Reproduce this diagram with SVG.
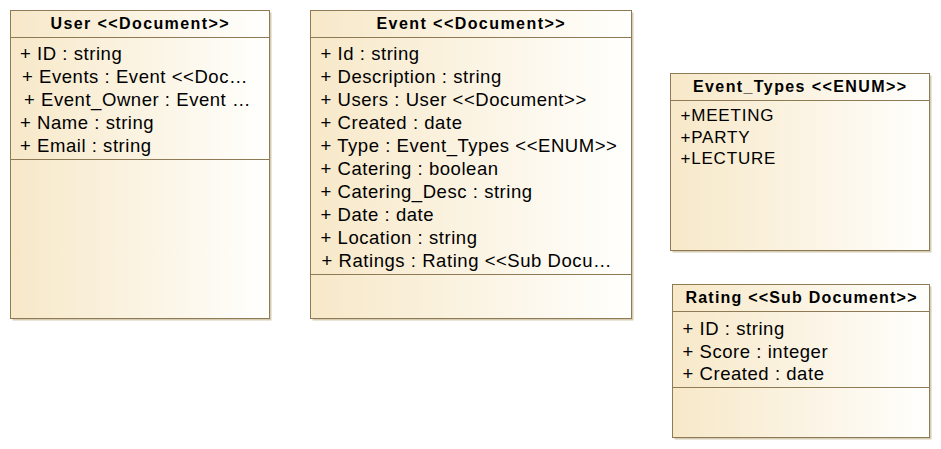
<svg xmlns="http://www.w3.org/2000/svg" width="941" height="449" viewBox="0 0 941 449">
<defs>
<linearGradient id="fill" x1="0" y1="0" x2="1" y2="0">
<stop offset="0" stop-color="#F7E8C8"/>
<stop offset="1" stop-color="#FFFFFD"/>
</linearGradient>
</defs>
<style>
.shadow{fill:#D6CCB4;}
.box{fill:url(#fill);stroke:#8E7A55;stroke-width:1;}
.sep{stroke:#8E7A55;stroke-width:1;}
.hdr{font-family:"Liberation Sans",Arial,sans-serif;font-weight:bold;font-size:16px;fill:#000;text-anchor:middle;}
.attr{font-family:"Liberation Sans",Arial,sans-serif;font-size:18.5px;letter-spacing:0.55px;fill:#000;}
.lit{font-family:"Liberation Sans",Arial,sans-serif;font-size:17px;letter-spacing:0.8px;fill:#000;}
</style>
<rect width="941" height="449" fill="#FFFFFF"/>
<g id="connectors"></g>
<g id="user">
<rect class="shadow" x="12.5" y="12.5" width="259" height="308"/>
<rect class="box" x="10.5" y="10.5" width="259" height="308"/>
<line class="sep" x1="10.5" y1="37.5" x2="269.5" y2="37.5"/>
<line class="sep" x1="10.5" y1="159.5" x2="269.5" y2="159.5"/>
<text class="hdr" x="139.5" y="29" textLength="178" lengthAdjust="spacing">User &lt;&lt;Document&gt;&gt;</text>
<text class="attr" x="20" y="60">+ ID : string</text>
<text class="attr" x="22" y="83">+ Events : Event &lt;&lt;Doc…</text>
<text class="attr" x="24" y="106">+ Event_Owner : Event …</text>
<text class="attr" x="20" y="129">+ Name : string</text>
<text class="attr" x="20" y="152">+ Email : string</text>
</g>
<g id="event">
<rect class="shadow" x="312.5" y="12.5" width="321" height="308"/>
<rect class="box" x="310.5" y="10.5" width="321" height="308"/>
<line class="sep" x1="310.5" y1="37.5" x2="631.5" y2="37.5"/>
<line class="sep" x1="310.5" y1="274.5" x2="631.5" y2="274.5"/>
<text class="hdr" x="470.5" y="29" textLength="188" lengthAdjust="spacing">Event &lt;&lt;Document&gt;&gt;</text>
<text class="attr" x="320.5" y="60">+ Id : string</text>
<text class="attr" x="320.5" y="83">+ Description : string</text>
<text class="attr" x="320.5" y="106">+ Users : User &lt;&lt;Document&gt;&gt;</text>
<text class="attr" x="320.5" y="129">+ Created : date</text>
<text class="attr" x="320.5" y="152">+ Type : Event_Types &lt;&lt;ENUM&gt;&gt;</text>
<text class="attr" x="320.5" y="175">+ Catering : boolean</text>
<text class="attr" x="320.5" y="198">+ Catering_Desc : string</text>
<text class="attr" x="320.5" y="221">+ Date : date</text>
<text class="attr" x="320.5" y="244">+ Location : string</text>
<text class="attr" x="321.5" y="267">+ Ratings : Rating &lt;&lt;Sub Docu…</text>
</g>
<g id="event_types">
<rect class="shadow" x="672.5" y="75.5" width="259" height="177"/>
<rect class="box" x="670.5" y="73.5" width="259" height="177"/>
<line class="sep" x1="670.5" y1="100.5" x2="929.5" y2="100.5"/>
<text class="hdr" x="799.5" y="92" textLength="213" lengthAdjust="spacing">Event_Types &lt;&lt;ENUM&gt;&gt;</text>
<text class="lit" x="680.5" y="121">+MEETING</text>
<text class="lit" x="680.5" y="142.7">+PARTY</text>
<text class="lit" x="680.5" y="164.3">+LECTURE</text>
</g>
<g id="rating">
<rect class="shadow" x="674.5" y="286.5" width="257" height="153"/>
<rect class="box" x="672.5" y="284.5" width="257" height="153"/>
<line class="sep" x1="672.5" y1="311.5" x2="929.5" y2="311.5"/>
<line class="sep" x1="672.5" y1="387.5" x2="929.5" y2="387.5"/>
<text class="hdr" x="801" y="303" textLength="231" lengthAdjust="spacing">Rating &lt;&lt;Sub Document&gt;&gt;</text>
<text class="attr" x="682.5" y="335">+ ID : string</text>
<text class="attr" x="682.5" y="357.5">+ Score : integer</text>
<text class="attr" x="682.5" y="380">+ Created : date</text>
</g>
</svg>
